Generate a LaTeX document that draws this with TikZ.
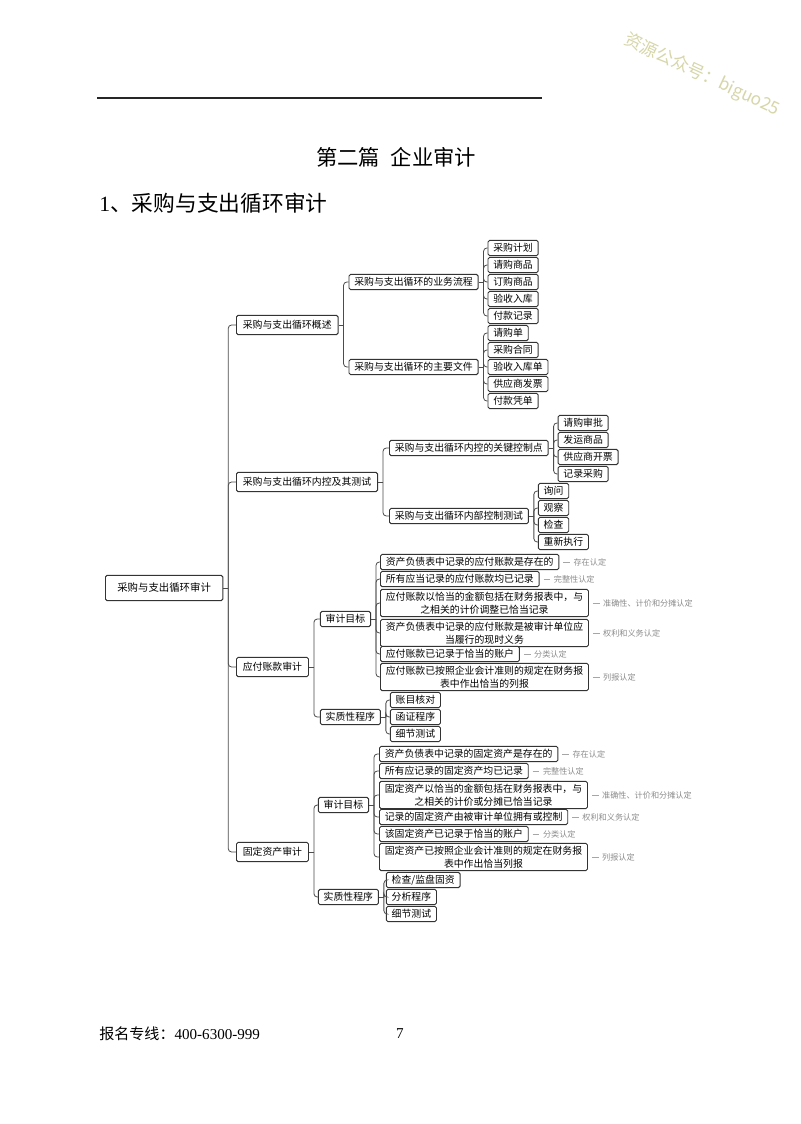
\documentclass[tikz,border=0pt]{standalone}
\usepackage{fontspec}
\setmainfont{Liberation Serif}
\newfontfamily\cjk{Noto Sans CJK SC}
\usetikzlibrary{calc}
\definecolor{wmc}{RGB}{214,214,170}
\newcommand\mmlink[2]{%
  \draw[conn] (#1.east) -- ++(5,0);
  \foreach \c in {#2} {\draw[conn] ($(#1.east)+(5,0)$) |- (\c.west);}
}
\newcommand\annot[2]{%
  \node[ann] (#1n) at ($(#1.east)+(14,0)$) {#2};
  \draw[annline, shorten <=3pt, shorten >=2.5pt] (#1.east) -- (#1n.west);
}
\begin{document}
\begin{tikzpicture}[x=0.75pt,y=-0.75pt,
  mm/.style={draw=black!80, line width=0.7pt, rounded corners=1.2pt, anchor=west,
    align=center, font=\cjk\fontsize{7.4}{9.6}\selectfont, inner xsep=4pt,
    inner ysep=1pt, minimum height=11.5pt, fill=white},
  lone/.style={mm, minimum height=14.5pt, inner xsep=4.8pt},
  rootbox/.style={mm, minimum height=19pt, minimum width=88pt,
    font=\cjk\fontsize{7.8}{9}\selectfont},
  two/.style={mm, inner ysep=2pt},
  conn/.style={draw=black!70, line width=0.6pt, rounded corners=2.5pt},
  ann/.style={font=\cjk\fontsize{6.1}{6.5}\selectfont, text=black!45, anchor=west, inner sep=0pt},
  annline/.style={draw=black!35, line width=0.4pt}]
\fill[white] (0,0) rectangle (800,1124);
\useasboundingbox (0,0) rectangle (800,1124);

% header
\node[rotate=-25, text=wmc, font=\cjk\fontsize{13}{13}\selectfont] (wm) at (702,75) {资源公众号：biguo25};
\draw[line width=0.9pt, black!85] (97,98) -- (542,98);
\node[font=\cjk\fontsize{16}{18}\selectfont] (title) at (396,157) {第二篇\hspace{0.5em}企业审计};
\node[anchor=west, font=\fontsize{16.3}{18}\selectfont, inner sep=0pt] (h1) at (99,203) {1{\cjk 、采购与支出循环审计}};

% root and level 1
\node[rootbox] (R) at (105,588) {采购与支出循环审计};
\node[lone] (A) at (236,325) {采购与支出循环概述};
\node[lone] (B) at (236,482) {采购与支出循环内控及其测试};
\node[lone] (C) at (236,667) {应付账款审计};
\node[lone] (D) at (236,852) {固定资产审计};
\mmlink{R}{A,B,C,D}

% A
\coordinate (Ax) at ($(A.east)+(10,0)$);
\node[mm] (A1) at (Ax |- 0,282) {采购与支出循环的业务流程};
\node[mm] (A2) at (Ax |- 0,367) {采购与支出循环的主要文件};
\mmlink{A}{A1,A2}
\coordinate (A1x) at ($(A1.east)+(9,0)$);
\node[mm] (a11) at (A1x |- 0,248) {采购计划};
\node[mm] (a12) at (A1x |- 0,265) {请购商品};
\node[mm] (a13) at (A1x |- 0,282) {订购商品};
\node[mm] (a14) at (A1x |- 0,299) {验收入库};
\node[mm] (a15) at (A1x |- 0,316) {付款记录};
\mmlink{A1}{a11,a12,a13,a14,a15}
\coordinate (A2x) at ($(A2.east)+(9,0)$);
\node[mm] (a21) at (A2x |- 0,333) {请购单};
\node[mm] (a22) at (A2x |- 0,350) {采购合同};
\node[mm] (a23) at (A2x |- 0,367) {验收入库单};
\node[mm] (a24) at (A2x |- 0,384) {供应商发票};
\node[mm] (a25) at (A2x |- 0,401) {付款凭单};
\mmlink{A2}{a21,a22,a23,a24,a25}

% B
\coordinate (Bx) at ($(B.east)+(11,0)$);
\node[mm] (B1) at (Bx |- 0,448) {采购与支出循环内控的关键控制点};
\node[mm] (B2) at (Bx |- 0,516) {采购与支出循环内部控制测试};
\mmlink{B}{B1,B2}
\coordinate (B1x) at ($(B1.east)+(9,0)$);
\node[mm] (b11) at (B1x |- 0,423) {请购审批};
\node[mm] (b12) at (B1x |- 0,440) {发运商品};
\node[mm] (b13) at (B1x |- 0,457) {供应商开票};
\node[mm] (b14) at (B1x |- 0,474) {记录采购};
\mmlink{B1}{b11,b12,b13,b14}
\coordinate (B2x) at ($(B2.east)+(9,0)$);
\node[mm] (b21) at (B2x |- 0,491) {询问};
\node[mm] (b22) at (B2x |- 0,508) {观察};
\node[mm] (b23) at (B2x |- 0,525) {检查};
\node[mm] (b24) at (B2x |- 0,542) {重新执行};
\mmlink{B2}{b21,b22,b23,b24}

% C
\coordinate (Cx) at ($(C.east)+(11,0)$);
\node[mm] (C1) at (Cx |- 0,619) {审计目标};
\node[mm] (C2) at (Cx |- 0,717) {实质性程序};
\mmlink{C}{C1,C2}
\coordinate (C1x) at ($(C1.east)+(9,0)$);
\node[mm] (c1) at (C1x |- 0,562) {资产负债表中记录的应付账款是存在的};
\node[mm] (c2) at (C1x |- 0,579) {所有应当记录的应付账款均已记录};
\node[two] (c3) at (C1x |- 0,603) {应付账款以恰当的金额包括在财务报表中，与\\之相关的计价调整已恰当记录};
\node[two] (c4) at (C1x |- 0,633) {资产负债表中记录的应付账款是被审计单位应\\当履行的现时义务};
\node[mm] (c5) at (C1x |- 0,654) {应付账款已记录于恰当的账户};
\node[two] (c6) at (C1x |- 0,677) {应付账款已按照企业会计准则的规定在财务报\\表中作出恰当的列报};
\mmlink{C1}{c1,c2,c3,c4,c5,c6}
\annot{c1}{存在认定}
\annot{c2}{完整性认定}
\annot{c3}{准确性、计价和分摊认定}
\annot{c4}{权利和义务认定}
\annot{c5}{分类认定}
\annot{c6}{列报认定}
\coordinate (C2x) at ($(C2.east)+(9,0)$);
\node[mm] (c21) at (C2x |- 0,700) {账目核对};
\node[mm] (c22) at (C2x |- 0,717) {函证程序};
\node[mm] (c23) at (C2x |- 0,734) {细节测试};
\mmlink{C2}{c21,c22,c23}

% D
\coordinate (Dx) at ($(D.east)+(9,0)$);
\node[mm] (D1) at (Dx |- 0,805) {审计目标};
\node[mm] (D2) at (Dx |- 0,897) {实质性程序};
\mmlink{D}{D1,D2}
\coordinate (D1x) at ($(D1.east)+(10,0)$);
\node[mm] (d1) at (D1x |- 0,754) {资产负债表中记录的固定资产是存在的};
\node[mm] (d2) at (D1x |- 0,771) {所有应记录的固定资产均已记录};
\node[two] (d3) at (D1x |- 0,795) {固定资产以恰当的金额包括在财务报表中，与\\之相关的计价或分摊已恰当记录};
\node[mm] (d4) at (D1x |- 0,817) {记录的固定资产由被审计单位拥有或控制};
\node[mm] (d5) at (D1x |- 0,834) {该固定资产已记录于恰当的账户};
\node[two] (d6) at (D1x |- 0,857) {固定资产已按照企业会计准则的规定在财务报\\表中作出恰当列报};
\mmlink{D1}{d1,d2,d3,d4,d5,d6}
\annot{d1}{存在认定}
\annot{d2}{完整性认定}
\annot{d3}{准确性、计价和分摊认定}
\annot{d4}{权利和义务认定}
\annot{d5}{分类认定}
\annot{d6}{列报认定}
\coordinate (D2x) at ($(D2.east)+(7,0)$);
\node[mm] (d21) at (D2x |- 0,880) {检查/监盘固资};
\node[mm] (d22) at (D2x |- 0,897) {分析程序};
\node[mm] (d23) at (D2x |- 0,914) {细节测试};
\mmlink{D2}{d21,d22,d23}

% footer
\node[anchor=west, font=\fontsize{11.3}{13}\selectfont, inner sep=0pt] (ft) at (99,1034) {{\cjk 报名专线：}400-6300-999};
\node[font=\fontsize{11.3}{13}\selectfont, inner sep=0pt] (pg) at (400,1034) {7};
\end{tikzpicture}
\end{document}
